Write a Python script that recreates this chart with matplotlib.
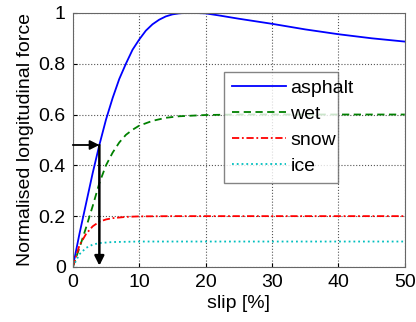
import matplotlib
matplotlib.use('Agg')
from matplotlib import pyplot as plt

plt.rcParams['font.family'] = ['Liberation Sans', 'DejaVu Sans']

# slip [%] and normalised force
slip_asphalt = [0, 1, 2, 3, 4, 5, 6, 7, 8, 9, 10, 11, 12, 13, 14, 15, 16, 17, 18, 20, 22, 25,
                30, 35, 40, 45, 50]
force_asphalt = [0, 0.13, 0.25, 0.37, 0.48, 0.58, 0.665, 0.74, 0.80, 0.855, 0.895, 0.93, 0.955,
                 0.973, 0.986, 0.994, 0.998, 1.0, 1.0, 0.998, 0.99, 0.977, 0.957, 0.935, 0.916,
                 0.90, 0.887]

slip_wet = [0, 1, 2, 3, 4, 5, 6, 7, 8, 9, 10, 12, 14, 16, 20, 25, 30, 50]
force_wet = [0, 0.075, 0.155, 0.24, 0.33, 0.40, 0.45, 0.49, 0.52, 0.54, 0.556, 0.575, 0.587,
             0.593, 0.598, 0.6, 0.6, 0.6]

slip_snow = [0, 1, 2, 3, 4, 5, 6, 8, 10, 15, 20, 50]
force_snow = [0, 0.085, 0.13, 0.16, 0.178, 0.187, 0.192, 0.197, 0.199, 0.2, 0.2, 0.2]

slip_ice = [0, 1, 2, 3, 4, 6, 8, 10, 50]
force_ice = [0, 0.05, 0.075, 0.088, 0.094, 0.098, 0.099, 0.1, 0.1]

fig = plt.figure(figsize=(4.16, 3.22), dpi=100)
ax = fig.add_axes([0.175, 0.171, 0.798, 0.789])

ax.plot(slip_asphalt, force_asphalt, '-', color='#0000ff', lw=1.3, label='asphalt')
ax.plot(slip_wet, force_wet, '--', color='#008000', lw=1.3, dashes=(4, 2.5), label='wet')
ax.plot(slip_snow, force_snow, '-.', color='#ff0000', lw=1.3, dashes=(4, 1.5, 1, 1.5), label='snow')
ax.plot(slip_ice, force_ice, ':', color='#00bfbf', lw=1.3, label='ice')

# operating point arrows
ax.annotate('', xy=(4, 0.48), xytext=(0, 0.48),
            arrowprops=dict(arrowstyle='-|>', color='black', lw=1.3, mutation_scale=14,
                            shrinkA=0, shrinkB=0))
ax.annotate('', xy=(4, 0.005), xytext=(4, 0.48),
            arrowprops=dict(arrowstyle='-|>', color='black', lw=1.8, mutation_scale=14,
                            shrinkA=0, shrinkB=0))

ax.set_xlim(0, 50)
ax.set_ylim(0, 1)
ax.set_xticks([0, 10, 20, 30, 40, 50])
ax.set_yticks([0, 0.2, 0.4, 0.6, 0.8, 1])
ax.set_yticklabels(['0', '0.2', '0.4', '0.6', '0.8', '1'])
ax.grid(True, linestyle=':', color='#555555', lw=0.8)
ax.tick_params(direction='in', labelsize=14, length=3, pad=5)
for s in ax.spines.values():
    s.set_color('#666666')

ax.set_xlabel('slip [%]', fontsize=14, labelpad=3)
ax.set_ylabel('Normalised longitudinal force', fontsize=14, labelpad=3)

leg = ax.legend(loc='upper left', bbox_to_anchor=(0.456, 0.323, 0.344, 0.445), mode='expand',
                fontsize=14, frameon=True, fancybox=False, handlelength=2.8, handletextpad=0.2,
                borderaxespad=0, labelspacing=0.43, borderpad=0.4)
leg.get_frame().set_edgecolor('#666666')
leg.get_frame().set_linewidth(1.0)

fig.savefig('out.png', dpi=100)
